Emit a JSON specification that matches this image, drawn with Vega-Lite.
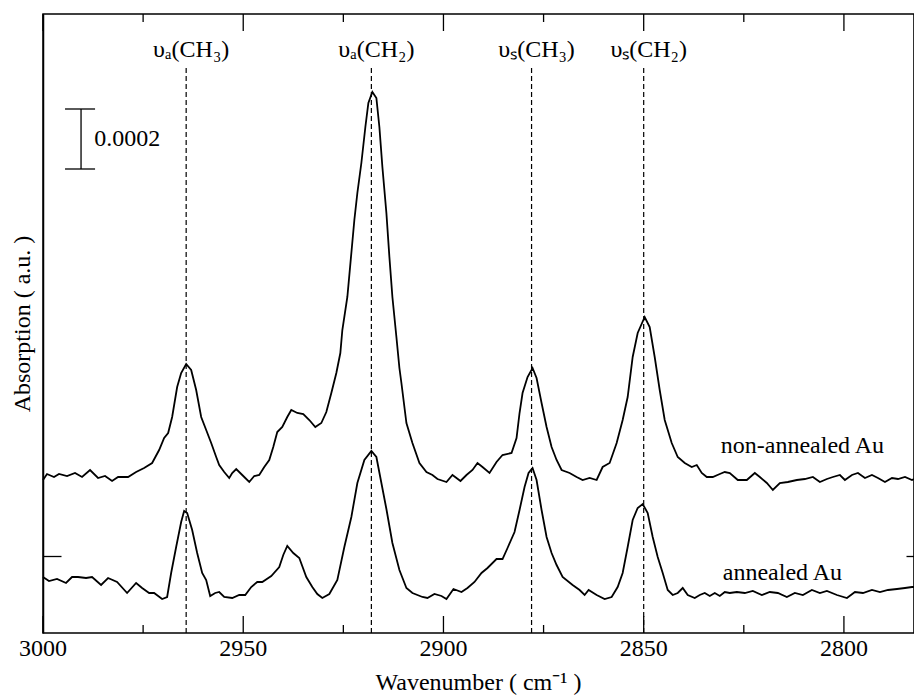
{
  "$schema": "https://vega.github.io/schema/vega-lite/v6.json",
  "autosize": {"type": "none"},
  "padding": {"left": 43, "top": 14, "right": 0, "bottom": 67},
  "width": 871,
  "height": 619,
  "background": "white",
  "config": {
    "view": {"stroke": "black", "strokeWidth": 1.5},
    "font": "Liberation Serif",
    "axis": {
      "domainColor": "black", "domainWidth": 1.5, "tickColor": "black", "tickWidth": 1.3,
      "labelFont": "Liberation Serif", "labelFontSize": 24, "labelColor": "black",
      "titleFont": "Liberation Serif", "titleFontSize": 24, "titleFontWeight": "normal", "titleColor": "black",
      "grid": false
    }
  },
  "datasets": {
    "spectra": [
      {"wavenumber":3000,"absorption":153,"sample":"non-annealed Au"},{"wavenumber":2999,"absorption":159,"sample":"non-annealed Au"},{"wavenumber":2997.25,"absorption":156,"sample":"non-annealed Au"},{"wavenumber":2996,"absorption":159,"sample":"non-annealed Au"},{"wavenumber":2994,"absorption":157,"sample":"non-annealed Au"},{"wavenumber":2992,"absorption":160,"sample":"non-annealed Au"},{"wavenumber":2990.25,"absorption":156,"sample":"non-annealed Au"},{"wavenumber":2988.25,"absorption":163,"sample":"non-annealed Au"},{"wavenumber":2986.25,"absorption":155,"sample":"non-annealed Au"},{"wavenumber":2984.5,"absorption":157,"sample":"non-annealed Au"},{"wavenumber":2982.75,"absorption":152,"sample":"non-annealed Au"},{"wavenumber":2981.25,"absorption":156,"sample":"non-annealed Au"},{"wavenumber":2978.75,"absorption":156,"sample":"non-annealed Au"},{"wavenumber":2976.75,"absorption":161,"sample":"non-annealed Au"},{"wavenumber":2974.75,"absorption":165,"sample":"non-annealed Au"},{"wavenumber":2972.75,"absorption":170,"sample":"non-annealed Au"},{"wavenumber":2971,"absorption":183,"sample":"non-annealed Au"},{"wavenumber":2969.75,"absorption":195,"sample":"non-annealed Au"},{"wavenumber":2968.75,"absorption":200,"sample":"non-annealed Au"},{"wavenumber":2967.75,"absorption":216,"sample":"non-annealed Au"},{"wavenumber":2966.5,"absorption":246,"sample":"non-annealed Au"},{"wavenumber":2965.5,"absorption":260,"sample":"non-annealed Au"},{"wavenumber":2964.25,"absorption":269,"sample":"non-annealed Au"},{"wavenumber":2963,"absorption":263,"sample":"non-annealed Au"},{"wavenumber":2961.75,"absorption":243,"sample":"non-annealed Au"},{"wavenumber":2960.5,"absorption":216,"sample":"non-annealed Au"},{"wavenumber":2959.25,"absorption":203,"sample":"non-annealed Au"},{"wavenumber":2958,"absorption":190,"sample":"non-annealed Au"},{"wavenumber":2956.75,"absorption":176,"sample":"non-annealed Au"},{"wavenumber":2956,"absorption":168,"sample":"non-annealed Au"},{"wavenumber":2954.75,"absorption":161,"sample":"non-annealed Au"},{"wavenumber":2953.5,"absorption":155,"sample":"non-annealed Au"},{"wavenumber":2952.75,"absorption":160,"sample":"non-annealed Au"},{"wavenumber":2951.75,"absorption":164,"sample":"non-annealed Au"},{"wavenumber":2950.25,"absorption":158,"sample":"non-annealed Au"},{"wavenumber":2948.5,"absorption":151,"sample":"non-annealed Au"},{"wavenumber":2947.25,"absorption":157,"sample":"non-annealed Au"},{"wavenumber":2946,"absorption":158,"sample":"non-annealed Au"},{"wavenumber":2944.75,"absorption":166,"sample":"non-annealed Au"},{"wavenumber":2943.5,"absorption":173,"sample":"non-annealed Au"},{"wavenumber":2942.5,"absorption":186,"sample":"non-annealed Au"},{"wavenumber":2941.5,"absorption":201,"sample":"non-annealed Au"},{"wavenumber":2940.25,"absorption":206,"sample":"non-annealed Au"},{"wavenumber":2939,"absorption":216,"sample":"non-annealed Au"},{"wavenumber":2938,"absorption":223,"sample":"non-annealed Au"},{"wavenumber":2936.5,"absorption":220,"sample":"non-annealed Au"},{"wavenumber":2935,"absorption":219,"sample":"non-annealed Au"},{"wavenumber":2933.5,"absorption":213,"sample":"non-annealed Au"},{"wavenumber":2932,"absorption":206,"sample":"non-annealed Au"},{"wavenumber":2930.5,"absorption":210,"sample":"non-annealed Au"},{"wavenumber":2929.25,"absorption":221,"sample":"non-annealed Au"},{"wavenumber":2928,"absorption":240,"sample":"non-annealed Au"},{"wavenumber":2926.75,"absorption":260,"sample":"non-annealed Au"},{"wavenumber":2925.75,"absorption":280,"sample":"non-annealed Au"},{"wavenumber":2925.25,"absorption":303,"sample":"non-annealed Au"},{"wavenumber":2924,"absorption":336,"sample":"non-annealed Au"},{"wavenumber":2923,"absorption":380,"sample":"non-annealed Au"},{"wavenumber":2922.25,"absorption":413,"sample":"non-annealed Au"},{"wavenumber":2921.5,"absorption":440,"sample":"non-annealed Au"},{"wavenumber":2920.5,"absorption":470,"sample":"non-annealed Au"},{"wavenumber":2919.5,"absorption":506,"sample":"non-annealed Au"},{"wavenumber":2918.75,"absorption":530,"sample":"non-annealed Au"},{"wavenumber":2917.75,"absorption":541,"sample":"non-annealed Au"},{"wavenumber":2916.75,"absorption":535,"sample":"non-annealed Au"},{"wavenumber":2916,"absorption":506,"sample":"non-annealed Au"},{"wavenumber":2915.25,"absorption":466,"sample":"non-annealed Au"},{"wavenumber":2914.25,"absorption":420,"sample":"non-annealed Au"},{"wavenumber":2913.5,"absorption":376,"sample":"non-annealed Au"},{"wavenumber":2912.75,"absorption":336,"sample":"non-annealed Au"},{"wavenumber":2911.75,"absorption":296,"sample":"non-annealed Au"},{"wavenumber":2911,"absorption":265,"sample":"non-annealed Au"},{"wavenumber":2910.5,"absorption":250,"sample":"non-annealed Au"},{"wavenumber":2909.25,"absorption":210,"sample":"non-annealed Au"},{"wavenumber":2907.75,"absorption":190,"sample":"non-annealed Au"},{"wavenumber":2906,"absorption":170,"sample":"non-annealed Au"},{"wavenumber":2904.25,"absorption":161,"sample":"non-annealed Au"},{"wavenumber":2902.75,"absorption":158,"sample":"non-annealed Au"},{"wavenumber":2901.5,"absorption":154,"sample":"non-annealed Au"},{"wavenumber":2899.25,"absorption":151,"sample":"non-annealed Au"},{"wavenumber":2897.75,"absorption":158,"sample":"non-annealed Au"},{"wavenumber":2895.75,"absorption":152,"sample":"non-annealed Au"},{"wavenumber":2894.25,"absorption":158,"sample":"non-annealed Au"},{"wavenumber":2892.75,"absorption":163,"sample":"non-annealed Au"},{"wavenumber":2891.5,"absorption":170,"sample":"non-annealed Au"},{"wavenumber":2890.25,"absorption":166,"sample":"non-annealed Au"},{"wavenumber":2888.5,"absorption":160,"sample":"non-annealed Au"},{"wavenumber":2886.75,"absorption":171,"sample":"non-annealed Au"},{"wavenumber":2885.25,"absorption":178,"sample":"non-annealed Au"},{"wavenumber":2883,"absorption":180,"sample":"non-annealed Au"},{"wavenumber":2881.75,"absorption":195,"sample":"non-annealed Au"},{"wavenumber":2881,"absorption":220,"sample":"non-annealed Au"},{"wavenumber":2880.25,"absorption":240,"sample":"non-annealed Au"},{"wavenumber":2879,"absorption":256,"sample":"non-annealed Au"},{"wavenumber":2877.75,"absorption":265,"sample":"non-annealed Au"},{"wavenumber":2876.75,"absorption":255,"sample":"non-annealed Au"},{"wavenumber":2875.5,"absorption":230,"sample":"non-annealed Au"},{"wavenumber":2874.25,"absorption":206,"sample":"non-annealed Au"},{"wavenumber":2873,"absorption":186,"sample":"non-annealed Au"},{"wavenumber":2871.75,"absorption":173,"sample":"non-annealed Au"},{"wavenumber":2870.5,"absorption":163,"sample":"non-annealed Au"},{"wavenumber":2868.5,"absorption":160,"sample":"non-annealed Au"},{"wavenumber":2866.75,"absorption":156,"sample":"non-annealed Au"},{"wavenumber":2865.25,"absorption":153,"sample":"non-annealed Au"},{"wavenumber":2863.5,"absorption":155,"sample":"non-annealed Au"},{"wavenumber":2861.75,"absorption":153,"sample":"non-annealed Au"},{"wavenumber":2860.25,"absorption":166,"sample":"non-annealed Au"},{"wavenumber":2858.5,"absorption":170,"sample":"non-annealed Au"},{"wavenumber":2856.75,"absorption":190,"sample":"non-annealed Au"},{"wavenumber":2855.25,"absorption":213,"sample":"non-annealed Au"},{"wavenumber":2854,"absorption":236,"sample":"non-annealed Au"},{"wavenumber":2852.75,"absorption":276,"sample":"non-annealed Au"},{"wavenumber":2851.5,"absorption":300,"sample":"non-annealed Au"},{"wavenumber":2849.75,"absorption":316,"sample":"non-annealed Au"},{"wavenumber":2848.5,"absorption":306,"sample":"non-annealed Au"},{"wavenumber":2847.25,"absorption":276,"sample":"non-annealed Au"},{"wavenumber":2846,"absorption":243,"sample":"non-annealed Au"},{"wavenumber":2844.75,"absorption":213,"sample":"non-annealed Au"},{"wavenumber":2843,"absorption":190,"sample":"non-annealed Au"},{"wavenumber":2841.5,"absorption":176,"sample":"non-annealed Au"},{"wavenumber":2839.75,"absorption":170,"sample":"non-annealed Au"},{"wavenumber":2838,"absorption":166,"sample":"non-annealed Au"},{"wavenumber":2836.75,"absorption":168,"sample":"non-annealed Au"},{"wavenumber":2835.5,"absorption":160,"sample":"non-annealed Au"},{"wavenumber":2834.25,"absorption":156,"sample":"non-annealed Au"},{"wavenumber":2832.75,"absorption":156,"sample":"non-annealed Au"},{"wavenumber":2831,"absorption":159,"sample":"non-annealed Au"},{"wavenumber":2829.75,"absorption":161,"sample":"non-annealed Au"},{"wavenumber":2828.5,"absorption":160,"sample":"non-annealed Au"},{"wavenumber":2826.5,"absorption":153,"sample":"non-annealed Au"},{"wavenumber":2824.25,"absorption":153,"sample":"non-annealed Au"},{"wavenumber":2822.25,"absorption":160,"sample":"non-annealed Au"},{"wavenumber":2821,"absorption":156,"sample":"non-annealed Au"},{"wavenumber":2819.25,"absorption":150,"sample":"non-annealed Au"},{"wavenumber":2817.75,"absorption":143,"sample":"non-annealed Au"},{"wavenumber":2816,"absorption":150,"sample":"non-annealed Au"},{"wavenumber":2814,"absorption":151,"sample":"non-annealed Au"},{"wavenumber":2811.75,"absorption":153,"sample":"non-annealed Au"},{"wavenumber":2809.75,"absorption":154,"sample":"non-annealed Au"},{"wavenumber":2807.75,"absorption":156,"sample":"non-annealed Au"},{"wavenumber":2806,"absorption":151,"sample":"non-annealed Au"},{"wavenumber":2804.25,"absorption":154,"sample":"non-annealed Au"},{"wavenumber":2802.75,"absorption":156,"sample":"non-annealed Au"},{"wavenumber":2801,"absorption":158,"sample":"non-annealed Au"},{"wavenumber":2799.75,"absorption":153,"sample":"non-annealed Au"},{"wavenumber":2798,"absorption":158,"sample":"non-annealed Au"},{"wavenumber":2796.5,"absorption":160,"sample":"non-annealed Au"},{"wavenumber":2794.75,"absorption":155,"sample":"non-annealed Au"},{"wavenumber":2793,"absorption":158,"sample":"non-annealed Au"},{"wavenumber":2791.5,"absorption":155,"sample":"non-annealed Au"},{"wavenumber":2789.75,"absorption":151,"sample":"non-annealed Au"},{"wavenumber":2788,"absorption":155,"sample":"non-annealed Au"},{"wavenumber":2786.5,"absorption":154,"sample":"non-annealed Au"},{"wavenumber":2784.75,"absorption":156,"sample":"non-annealed Au"},{"wavenumber":2783,"absorption":153,"sample":"non-annealed Au"},{"wavenumber":2782.5,"absorption":154,"sample":"non-annealed Au"},
      {"wavenumber":3000,"absorption":56,"sample":"annealed Au"},{"wavenumber":2998.5,"absorption":52,"sample":"annealed Au"},{"wavenumber":2996.5,"absorption":54,"sample":"annealed Au"},{"wavenumber":2994.25,"absorption":50,"sample":"annealed Au"},{"wavenumber":2992.75,"absorption":56,"sample":"annealed Au"},{"wavenumber":2991.25,"absorption":56,"sample":"annealed Au"},{"wavenumber":2989.25,"absorption":55,"sample":"annealed Au"},{"wavenumber":2987.75,"absorption":56,"sample":"annealed Au"},{"wavenumber":2985.5,"absorption":48,"sample":"annealed Au"},{"wavenumber":2983.75,"absorption":55,"sample":"annealed Au"},{"wavenumber":2981.5,"absorption":51,"sample":"annealed Au"},{"wavenumber":2979,"absorption":40,"sample":"annealed Au"},{"wavenumber":2976.75,"absorption":50,"sample":"annealed Au"},{"wavenumber":2975.25,"absorption":45,"sample":"annealed Au"},{"wavenumber":2973.5,"absorption":40,"sample":"annealed Au"},{"wavenumber":2972.25,"absorption":40,"sample":"annealed Au"},{"wavenumber":2970.25,"absorption":34,"sample":"annealed Au"},{"wavenumber":2969,"absorption":36,"sample":"annealed Au"},{"wavenumber":2968,"absorption":60,"sample":"annealed Au"},{"wavenumber":2966.75,"absorption":86,"sample":"annealed Au"},{"wavenumber":2965.5,"absorption":111,"sample":"annealed Au"},{"wavenumber":2964.75,"absorption":122,"sample":"annealed Au"},{"wavenumber":2964,"absorption":120,"sample":"annealed Au"},{"wavenumber":2962.75,"absorption":103,"sample":"annealed Au"},{"wavenumber":2961.5,"absorption":80,"sample":"annealed Au"},{"wavenumber":2960.25,"absorption":60,"sample":"annealed Au"},{"wavenumber":2959.25,"absorption":53,"sample":"annealed Au"},{"wavenumber":2958.25,"absorption":37,"sample":"annealed Au"},{"wavenumber":2957,"absorption":40,"sample":"annealed Au"},{"wavenumber":2956,"absorption":41,"sample":"annealed Au"},{"wavenumber":2954.75,"absorption":36,"sample":"annealed Au"},{"wavenumber":2952.75,"absorption":35,"sample":"annealed Au"},{"wavenumber":2951,"absorption":38,"sample":"annealed Au"},{"wavenumber":2949.5,"absorption":38,"sample":"annealed Au"},{"wavenumber":2948,"absorption":46,"sample":"annealed Au"},{"wavenumber":2946.5,"absorption":51,"sample":"annealed Au"},{"wavenumber":2945.25,"absorption":51,"sample":"annealed Au"},{"wavenumber":2943,"absorption":57,"sample":"annealed Au"},{"wavenumber":2941,"absorption":66,"sample":"annealed Au"},{"wavenumber":2940,"absorption":78,"sample":"annealed Au"},{"wavenumber":2939,"absorption":87,"sample":"annealed Au"},{"wavenumber":2937.5,"absorption":80,"sample":"annealed Au"},{"wavenumber":2936,"absorption":75,"sample":"annealed Au"},{"wavenumber":2934.25,"absorption":56,"sample":"annealed Au"},{"wavenumber":2932.75,"absorption":46,"sample":"annealed Au"},{"wavenumber":2931.5,"absorption":39,"sample":"annealed Au"},{"wavenumber":2930.25,"absorption":35,"sample":"annealed Au"},{"wavenumber":2928.5,"absorption":39,"sample":"annealed Au"},{"wavenumber":2926.5,"absorption":53,"sample":"annealed Au"},{"wavenumber":2924.75,"absorption":86,"sample":"annealed Au"},{"wavenumber":2923,"absorption":116,"sample":"annealed Au"},{"wavenumber":2921.5,"absorption":150,"sample":"annealed Au"},{"wavenumber":2919.75,"absorption":173,"sample":"annealed Au"},{"wavenumber":2918,"absorption":182,"sample":"annealed Au"},{"wavenumber":2916.75,"absorption":176,"sample":"annealed Au"},{"wavenumber":2915.5,"absorption":150,"sample":"annealed Au"},{"wavenumber":2914.25,"absorption":124,"sample":"annealed Au"},{"wavenumber":2912.75,"absorption":90,"sample":"annealed Au"},{"wavenumber":2911,"absorption":63,"sample":"annealed Au"},{"wavenumber":2909.25,"absorption":45,"sample":"annealed Au"},{"wavenumber":2907.75,"absorption":40,"sample":"annealed Au"},{"wavenumber":2905.25,"absorption":36,"sample":"annealed Au"},{"wavenumber":2904,"absorption":35,"sample":"annealed Au"},{"wavenumber":2902.25,"absorption":39,"sample":"annealed Au"},{"wavenumber":2900.5,"absorption":37,"sample":"annealed Au"},{"wavenumber":2899.25,"absorption":34,"sample":"annealed Au"},{"wavenumber":2897.5,"absorption":44,"sample":"annealed Au"},{"wavenumber":2895.5,"absorption":41,"sample":"annealed Au"},{"wavenumber":2894,"absorption":45,"sample":"annealed Au"},{"wavenumber":2892.25,"absorption":51,"sample":"annealed Au"},{"wavenumber":2890.5,"absorption":60,"sample":"annealed Au"},{"wavenumber":2889,"absorption":65,"sample":"annealed Au"},{"wavenumber":2886.75,"absorption":74,"sample":"annealed Au"},{"wavenumber":2885.25,"absorption":74,"sample":"annealed Au"},{"wavenumber":2884,"absorption":85,"sample":"annealed Au"},{"wavenumber":2882.25,"absorption":101,"sample":"annealed Au"},{"wavenumber":2881,"absorption":123,"sample":"annealed Au"},{"wavenumber":2879.75,"absorption":146,"sample":"annealed Au"},{"wavenumber":2878.75,"absorption":160,"sample":"annealed Au"},{"wavenumber":2877.75,"absorption":165,"sample":"annealed Au"},{"wavenumber":2876.75,"absorption":153,"sample":"annealed Au"},{"wavenumber":2875.5,"absorption":123,"sample":"annealed Au"},{"wavenumber":2874.25,"absorption":96,"sample":"annealed Au"},{"wavenumber":2873,"absorption":80,"sample":"annealed Au"},{"wavenumber":2871.75,"absorption":68,"sample":"annealed Au"},{"wavenumber":2870.25,"absorption":56,"sample":"annealed Au"},{"wavenumber":2867.75,"absorption":48,"sample":"annealed Au"},{"wavenumber":2866,"absorption":43,"sample":"annealed Au"},{"wavenumber":2864.75,"absorption":38,"sample":"annealed Au"},{"wavenumber":2863.75,"absorption":43,"sample":"annealed Au"},{"wavenumber":2861.75,"absorption":38,"sample":"annealed Au"},{"wavenumber":2859.75,"absorption":34,"sample":"annealed Au"},{"wavenumber":2858,"absorption":36,"sample":"annealed Au"},{"wavenumber":2856.5,"absorption":46,"sample":"annealed Au"},{"wavenumber":2855.25,"absorption":60,"sample":"annealed Au"},{"wavenumber":2854,"absorption":86,"sample":"annealed Au"},{"wavenumber":2852.75,"absorption":113,"sample":"annealed Au"},{"wavenumber":2851.5,"absorption":125,"sample":"annealed Au"},{"wavenumber":2850.25,"absorption":129,"sample":"annealed Au"},{"wavenumber":2849,"absorption":120,"sample":"annealed Au"},{"wavenumber":2847.75,"absorption":96,"sample":"annealed Au"},{"wavenumber":2846.5,"absorption":76,"sample":"annealed Au"},{"wavenumber":2845.25,"absorption":60,"sample":"annealed Au"},{"wavenumber":2844,"absorption":43,"sample":"annealed Au"},{"wavenumber":2842.75,"absorption":38,"sample":"annealed Au"},{"wavenumber":2841.5,"absorption":40,"sample":"annealed Au"},{"wavenumber":2840.25,"absorption":45,"sample":"annealed Au"},{"wavenumber":2839,"absorption":38,"sample":"annealed Au"},{"wavenumber":2837.25,"absorption":35,"sample":"annealed Au"},{"wavenumber":2836,"absorption":38,"sample":"annealed Au"},{"wavenumber":2834.75,"absorption":40,"sample":"annealed Au"},{"wavenumber":2833.5,"absorption":37,"sample":"annealed Au"},{"wavenumber":2832.25,"absorption":40,"sample":"annealed Au"},{"wavenumber":2831,"absorption":37,"sample":"annealed Au"},{"wavenumber":2829.75,"absorption":41,"sample":"annealed Au"},{"wavenumber":2828.5,"absorption":40,"sample":"annealed Au"},{"wavenumber":2826.75,"absorption":41,"sample":"annealed Au"},{"wavenumber":2824.75,"absorption":40,"sample":"annealed Au"},{"wavenumber":2822.75,"absorption":42,"sample":"annealed Au"},{"wavenumber":2820.5,"absorption":38,"sample":"annealed Au"},{"wavenumber":2818.5,"absorption":41,"sample":"annealed Au"},{"wavenumber":2816.5,"absorption":40,"sample":"annealed Au"},{"wavenumber":2814.25,"absorption":36,"sample":"annealed Au"},{"wavenumber":2812.25,"absorption":40,"sample":"annealed Au"},{"wavenumber":2810.25,"absorption":38,"sample":"annealed Au"},{"wavenumber":2808,"absorption":43,"sample":"annealed Au"},{"wavenumber":2806,"absorption":40,"sample":"annealed Au"},{"wavenumber":2804.25,"absorption":42,"sample":"annealed Au"},{"wavenumber":2801.75,"absorption":38,"sample":"annealed Au"},{"wavenumber":2799.25,"absorption":35,"sample":"annealed Au"},{"wavenumber":2797.25,"absorption":41,"sample":"annealed Au"},{"wavenumber":2795.25,"absorption":40,"sample":"annealed Au"},{"wavenumber":2793,"absorption":43,"sample":"annealed Au"},{"wavenumber":2791,"absorption":41,"sample":"annealed Au"},{"wavenumber":2789,"absorption":43,"sample":"annealed Au"},{"wavenumber":2786.75,"absorption":44,"sample":"annealed Au"},{"wavenumber":2784.75,"absorption":45,"sample":"annealed Au"},{"wavenumber":2783,"absorption":46,"sample":"annealed Au"},{"wavenumber":2782.5,"absorption":46,"sample":"annealed Au"}
    ],
    "bands": [
      {"wavenumber":2964.25,"band":"υₐ(CH₃)"},
      {"wavenumber":2918,"band":"υₐ(CH₂)"},
      {"wavenumber":2878,"band":"υₛ(CH₃)"},
      {"wavenumber":2850,"band":"υₛ(CH₂)"}
    ],
    "curveLabels": [
      {"wavenumber":2830.75,"absorption":180,"label":"non-annealed Au"},
      {"wavenumber":2830.25,"absorption":53,"label":"annealed Au"}
    ],
    "majorTicks": [{"wavenumber":3000},{"wavenumber":2950},{"wavenumber":2900},{"wavenumber":2850},{"wavenumber":2800}],
    "minorTicks": [{"wavenumber":2975},{"wavenumber":2925},{"wavenumber":2875},{"wavenumber":2825}]
  },
  "layer": [
    {
      "data": {"name": "spectra"},
      "mark": {"type": "line", "color": "black", "strokeWidth": 1.8, "interpolate": "linear"},
      "encoding": {
        "x": {
          "field": "wavenumber", "type": "quantitative",
          "scale": {"domain": [2782.5, 3000], "reverse": true, "nice": false, "zero": false},
          "axis": null
        },
        "y": {
          "field": "absorption", "type": "quantitative",
          "scale": {"domain": [0, 619], "nice": false, "zero": false},
          "axis": {
            "orient": "left", "title": "Absorption ( a.u. )",
            "values": [77], "labels": false, "tickSize": -18, "titlePadding": 8
          }
        },
        "detail": {"field": "sample"}
      }
    },
    {
      "data": {"name": "bands"},
      "mark": {"type": "rule", "color": "black", "strokeWidth": 1.2, "strokeDash": [5, 3]},
      "encoding": {
        "x": {"field": "wavenumber", "type": "quantitative", "axis": null},
        "y": {
          "datum": 0, "type": "quantitative",
          "axis": {"orient": "right", "title": null, "labels": false, "values": [77], "tickSize": -8}
        },
        "y2": {"datum": 568}
      }
    },
    {
      "data": {"name": "majorTicks"},
      "mark": {"type": "tick", "orient": "vertical", "color": "black", "opacity": 1, "size": 17, "thickness": 1.3},
      "encoding": {
        "x": {"field": "wavenumber", "type": "quantitative", "axis": null},
        "y": {"datum": 8.5, "type": "quantitative", "axis": null}
      }
    },
    {
      "data": {"name": "majorTicks"},
      "mark": {"type": "tick", "orient": "vertical", "color": "black", "opacity": 1, "size": 17, "thickness": 1.3},
      "encoding": {
        "x": {"field": "wavenumber", "type": "quantitative", "axis": null},
        "y": {"datum": 610.5, "type": "quantitative", "axis": null}
      }
    },
    {
      "data": {"name": "minorTicks"},
      "mark": {"type": "tick", "orient": "vertical", "color": "black", "opacity": 1, "size": 8, "thickness": 1.3},
      "encoding": {
        "x": {"field": "wavenumber", "type": "quantitative", "axis": null},
        "y": {"datum": 4, "type": "quantitative", "axis": null}
      }
    },
    {
      "data": {"name": "minorTicks"},
      "mark": {"type": "tick", "orient": "vertical", "color": "black", "opacity": 1, "size": 8, "thickness": 1.3},
      "encoding": {
        "x": {"field": "wavenumber", "type": "quantitative", "axis": null},
        "y": {"datum": 615, "type": "quantitative", "axis": null}
      }
    },
    {
      "data": {"name": "majorTicks"},
      "mark": {"type": "text", "color": "black", "font": "Liberation Serif", "fontSize": 24, "align": "center", "baseline": "middle"},
      "encoding": {
        "x": {"field": "wavenumber", "type": "quantitative", "axis": null},
        "y": {"datum": -16, "type": "quantitative", "axis": null},
        "text": {"field": "wavenumber", "type": "quantitative", "format": "d"}
      }
    },
    {
      "data": {"values": [{"title": "Wavenumber ( cm⁻¹ )"}]},
      "mark": {"type": "text", "color": "black", "font": "Liberation Serif", "fontSize": 24, "align": "center", "baseline": "middle"},
      "encoding": {
        "x": {"datum": 2891.25, "type": "quantitative", "axis": null},
        "y": {"datum": -50, "type": "quantitative", "axis": null},
        "text": {"field": "title"}
      }
    },
    {
      "data": {"name": "bands"},
      "mark": {"type": "text", "color": "black", "font": "Liberation Serif", "fontSize": 24, "align": "center", "baseline": "middle", "dx": 5},
      "encoding": {
        "x": {"field": "wavenumber", "type": "quantitative", "axis": null},
        "y": {"datum": 583, "type": "quantitative", "axis": null},
        "text": {"field": "band"}
      }
    },
    {
      "data": {"name": "curveLabels"},
      "mark": {"type": "text", "color": "black", "font": "Liberation Serif", "fontSize": 24, "align": "left", "baseline": "alphabetic"},
      "encoding": {
        "x": {"field": "wavenumber", "type": "quantitative", "axis": null},
        "y": {"field": "absorption", "type": "quantitative", "axis": null},
        "text": {"field": "label"}
      }
    },
    {
      "data": {"values": [{}]},
      "mark": {"type": "rule", "color": "black", "strokeWidth": 1.3},
      "encoding": {
        "x": {"datum": 2990.5, "type": "quantitative", "axis": null},
        "y": {"datum": 464, "type": "quantitative", "axis": null},
        "y2": {"datum": 524}
      }
    },
    {
      "data": {"values": [{"level": 464}, {"level": 524}]},
      "mark": {"type": "rule", "color": "black", "strokeWidth": 1.3},
      "encoding": {
        "x": {"datum": 2994.5, "type": "quantitative", "axis": null},
        "x2": {"datum": 2987},
        "y": {"field": "level", "type": "quantitative", "axis": null}
      }
    },
    {
      "data": {"values": [{"text": "0.0002"}]},
      "mark": {"type": "text", "color": "black", "font": "Liberation Serif", "fontSize": 24, "align": "left", "baseline": "middle"},
      "encoding": {
        "x": {"datum": 2987.2, "type": "quantitative", "axis": null},
        "y": {"datum": 494, "type": "quantitative", "axis": null},
        "text": {"field": "text"}
      }
    }
  ]
}
